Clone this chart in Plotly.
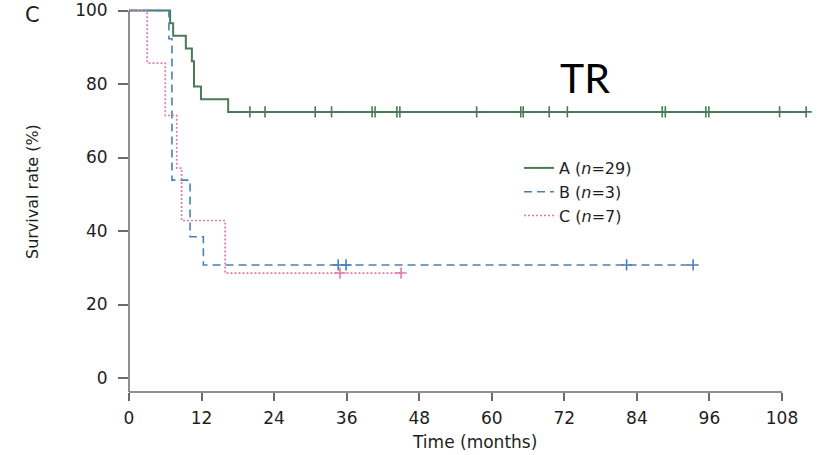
import plotly.graph_objects as go

# ---- data ----
a_time = [0, 6.8, 7.3, 9.4, 10.4, 10.75, 11.9, 16.4, 112.0]
a_surv = [100, 96.55, 93.10, 89.66, 86.21, 79.31, 75.86, 72.41, 72.41]
a_cens_t = [20.0, 22.5, 30.8, 33.5, 40.2, 40.7, 44.3, 44.8, 57.5, 64.8, 65.2,
            69.5, 72.5, 88.2, 88.7, 95.4, 95.9, 107.6, 112.0]
a_cens_s = [72.41] * len(a_cens_t)

b_time = [0, 6.6, 7.1, 10.1, 12.3, 93.3]
b_surv = [100, 92.31, 53.85, 38.46, 30.77, 30.77]
b_cens_t = [34.6, 35.9, 82.3, 93.3]
b_cens_s = [30.77] * len(b_cens_t)

c_time = [0, 3.0, 6.0, 7.9, 8.7, 15.9, 45.0]
c_surv = [100, 85.71, 71.43, 57.14, 42.86, 28.57, 28.57]
c_cens_t = [34.9, 45.0]
c_cens_s = [28.57] * len(c_cens_t)

x_ticks = [0, 12, 24, 36, 48, 60, 72, 84, 96, 108]
y_ticks = [0, 20, 40, 60, 80, 100]
names = ["A (<i>n</i>=29)", "B (<i>n</i>=3)", "C (<i>n</i>=7)"]

GREEN = "#4b7a58"
BLUE = "#4a80b8"
PINK = "#e27aae"
AX = "#6a6a6a"
TXT = "#1e1e1e"
FONT = "DejaVu Sans"

fig = go.Figure()
fig.add_trace(go.Scatter(x=a_time, y=a_surv, mode="lines", line_shape="hv",
                         line=dict(color=GREEN, width=2), name=names[0]))
fig.add_trace(go.Scatter(x=b_time, y=b_surv, mode="lines", line_shape="hv",
                         line=dict(color=BLUE, width=1.6, dash="8px,5px"), name=names[1]))
fig.add_trace(go.Scatter(x=c_time, y=c_surv, mode="lines", line_shape="hv",
                         line=dict(color=PINK, width=1.7, dash="2px,2px"), name=names[2]))

for t, s, col in [(a_cens_t, a_cens_s, GREEN), (b_cens_t, b_cens_s, BLUE), (c_cens_t, c_cens_s, PINK)]:
    fig.add_trace(go.Scatter(x=t, y=s, mode="markers", showlegend=False, cliponaxis=False,
                             marker=dict(symbol="cross-thin", size=8, color=col,
                                         line=dict(color=col, width=1.6))))

# axis lines drawn as shapes so they span exactly 0-108 / 0-100
fig.add_shape(type="line", xref="x", yref="paper", x0=0, x1=108, y0=0, y1=0,
              line=dict(color=AX, width=1.5))
fig.add_shape(type="line", xref="paper", yref="y", x0=0, x1=0, y0=-3.8, y1=100,
              line=dict(color=AX, width=1.5))

fig.update_layout(
    width=823, height=455,
    margin=dict(l=129, r=8, t=5, b=63, autoexpand=False),
    plot_bgcolor="white", paper_bgcolor="white",
    font=dict(family=FONT, size=16, color=TXT),
    xaxis=dict(range=[0, 113.46], tickvals=x_ticks, ticktext=[str(v) for v in x_ticks],
               showgrid=False, zeroline=False, showline=False, automargin=False,
               ticks="outside", ticklen=8, tickwidth=1.5, tickcolor=AX,
               ticklabelstandoff=3,
               tickfont=dict(size=17, color=TXT, family=FONT)),
    yaxis=dict(range=[-3.8, 101.5], tickvals=y_ticks, ticktext=[str(v) for v in y_ticks],
               showgrid=False, zeroline=False, showline=False, automargin=False,
               ticks="outside", ticklen=10, tickwidth=1.5, tickcolor=AX,
               ticklabelstandoff=7,
               tickfont=dict(size=17, color=TXT, family=FONT)),
    legend=dict(x=(519 - 129) / 686, y=(392 - 151) / 387, xanchor="left", yanchor="top",
                bgcolor="rgba(0,0,0,0)", borderwidth=0,
                font=dict(size=16, color=TXT, family=FONT), tracegroupgap=0),
    showlegend=True,
)

fig.add_annotation(text="Survival rate (%)", xref="paper", yref="paper",
                   x=(32 - 129) / 686, y=(392 - 192) / 387, textangle=-90,
                   showarrow=False, font=dict(size=16, color=TXT, family=FONT),
                   xanchor="center", yanchor="middle")
fig.add_annotation(text="Time (months)", xref="paper", yref="paper",
                   x=(474 - 129) / 686, y=(392 - 442) / 387, showarrow=False,
                   font=dict(size=17, color=TXT, family=FONT),
                   xanchor="center", yanchor="middle")
fig.add_annotation(text="C", xref="paper", yref="paper",
                   x=(32 - 129) / 686, y=(392 - 15) / 387, showarrow=False,
                   font=dict(size=21, color=TXT, family=FONT),
                   xanchor="center", yanchor="middle")
fig.add_annotation(text="TR", xref="paper", yref="paper",
                   x=(585 - 129) / 686, y=(392 - 78) / 387, showarrow=False,
                   font=dict(size=41, color="black", family="Lato"),
                   xanchor="center", yanchor="middle")

fig.write_html("out.html")
